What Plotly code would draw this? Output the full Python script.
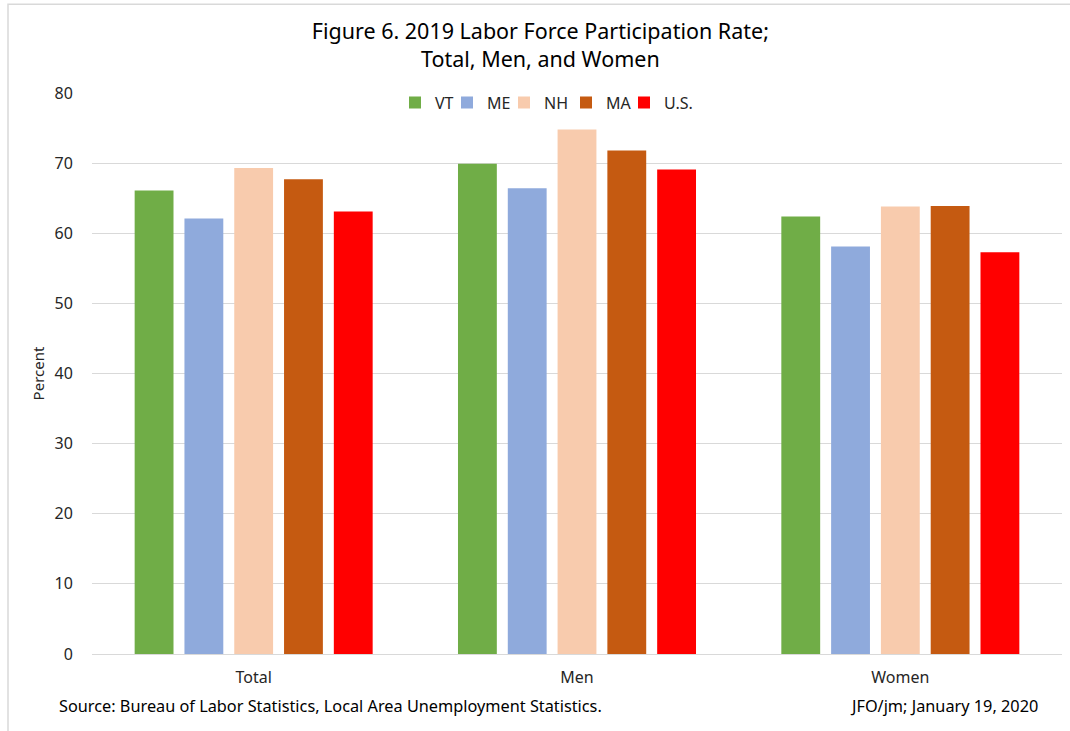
import plotly.graph_objects as go

# Labor force participation rate, 2019 (percent)
categories = ["Total", "Men", "Women"]
series_names = ["VT", "ME", "NH", "MA", "U.S."]
vt = [66.1, 69.9, 62.4]
me = [62.1, 66.4, 58.1]
nh = [69.3, 74.8, 63.8]
ma = [67.7, 71.8, 63.9]
us = [63.1, 69.1, 57.3]
y_ticks = [0, 10, 20, 30, 40, 50, 60, 70, 80]

colors = ["#70AD47", "#8FAADC", "#F8CBAD", "#C55A11", "#FF0000"]
values = [vt, me, nh, ma, us]

FONT = "Noto Sans"
PLOT_L, PLOT_W = 92, 970

# one small legend per series so the key can be laid out compactly in a row
legend_ids = ["legend", "legend2", "legend3", "legend4", "legend5"]
legend_px = [395, 447, 504, 566, 624]

fig = go.Figure()
for name, vals, col, lid in zip(series_names, values, colors, legend_ids):
    fig.add_trace(go.Bar(
        name=name, x=categories, y=vals, legend=lid,
        marker=dict(color=col, line=dict(width=0)),
    ))

legend_cfg = {}
for lid, px in zip(legend_ids, legend_px):
    legend_cfg[lid] = dict(
        orientation="h", x=(px - PLOT_L) / PLOT_W, xanchor="left",
        y=1.013, yanchor="top", itemwidth=30,
        font=dict(family=FONT, size=16, color="#262626"),
        bgcolor="rgba(0,0,0,0)",
    )

fig.update_layout(
    width=1070, height=731,
    paper_bgcolor="white", plot_bgcolor="white",
    barmode="group", bargap=0.23, bargroupgap=0.22,
    margin=dict(l=PLOT_L, r=8, t=93, b=77),
    font=dict(family=FONT, size=16, color="#262626"),
    title=dict(
        text="Figure 6. 2019 Labor Force Participation Rate;<br>Total, Men, and Women",
        x=0.505, xanchor="center", y=0.946, yanchor="middle",
        font=dict(family=FONT, size=21.5, color="#000000"),
    ),
    xaxis=dict(
        showgrid=False, showline=True, linecolor="#D9D9D9", linewidth=1,
        ticks="outside", ticklen=9, tickcolor="rgba(0,0,0,0)",
        tickfont=dict(size=16),
    ),
    yaxis=dict(
        range=[0, 80], tickvals=y_ticks, showgrid=True, gridcolor="#D9D9D9",
        gridwidth=1, zeroline=False, showline=False,
        ticks="outside", ticklen=15, tickcolor="rgba(0,0,0,0)",
        tickfont=dict(size=16),
        title=dict(text="Percent", font=dict(size=15), standoff=6),
    ),
    showlegend=True,
    **legend_cfg,
)

fig.add_annotation(
    text="Source: Bureau of Labor Statistics, Local Area Unemployment Statistics.",
    xref="paper", yref="paper", x=-0.036, y=-0.093, xanchor="left", yanchor="middle",
    showarrow=False, font=dict(family=FONT, size=16.3, color="#000000"),
)
fig.add_annotation(
    text="JFO/jm; January 19, 2020",
    xref="paper", yref="paper", x=0.977, y=-0.093, xanchor="right", yanchor="middle",
    showarrow=False, font=dict(family=FONT, size=16.3, color="#000000"),
)
# Outer frame around the chart area (top and left edges fall inside the page)
fig.add_shape(
    type="rect", xref="paper", yref="paper",
    x0=-0.0866, x1=1.03, y0=-0.2, y1=1.158,
    line=dict(color="#D9D9D9", width=1.5),
)

fig.write_html("out.html")
